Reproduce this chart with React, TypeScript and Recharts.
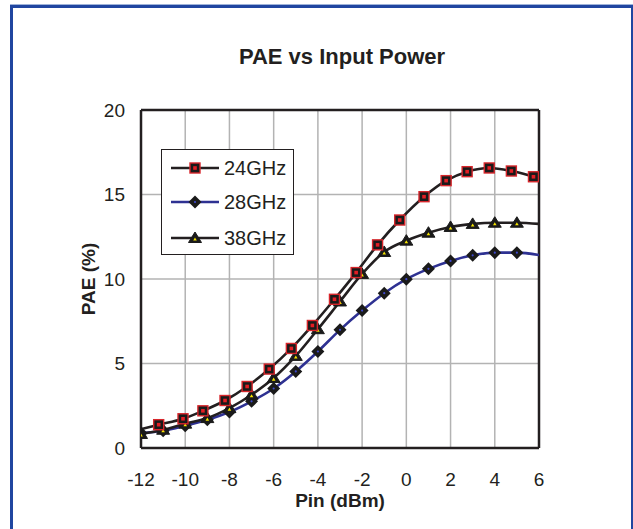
import React from "react";
import { CartesianGrid, Line, LineChart, ReferenceLine, XAxis, YAxis } from "recharts";

// Pin (dBm) / PAE (%)
const pin24 = [-11.2, -10.1, -9.2, -8.2, -7.2, -6.2, -5.2, -4.25, -3.25, -2.27, -1.3, -0.3, 0.8, 1.8, 2.75, 3.75, 4.75, 5.75];
const pae24 = [1.38, 1.73, 2.2, 2.81, 3.64, 4.67, 5.89, 7.25, 8.8, 10.38, 12.02, 13.49, 14.87, 15.82, 16.35, 16.57, 16.39, 16.05];
const pin28 = [-12, -11, -10, -9, -8, -7, -6, -5, -4, -3, -2, -1, 0, 1, 2, 3, 4, 5];
const pae28 = [0.89, 1.02, 1.32, 1.67, 2.13, 2.76, 3.52, 4.53, 5.71, 6.99, 8.13, 9.16, 9.99, 10.6, 11.07, 11.4, 11.56, 11.56];
const pin38 = [-12, -11, -10, -9, -8, -7, -6, -5, -4, -3, -2, -1, 0, 1, 2, 3, 4, 5];
const pae38 = [0.83, 1.08, 1.44, 1.77, 2.36, 3.15, 4.14, 5.45, 7.03, 8.67, 10.3, 11.6, 12.27, 12.74, 13.08, 13.26, 13.33, 13.33];
// where the curves run on past the last marker, no marker drawn
const head24 = { x: -12, y: 1.12 };
const tail24 = { x: 6, y: 15.93 };
const tail28 = { x: 6, y: 11.42 };
const tail38 = { x: 6, y: 13.26 };

const xTicks = [-12, -10, -8, -6, -4, -2, 0, 2, 4, 6];
const yTicks = [0, 5, 10, 15, 20];

const INK = "#231f20";
const BLUE = "#2e3192";
const FONT = "'Liberation Sans', Arial, sans-serif";

type Pt = { x: number; y: number; bare?: boolean };
const pts = (xs: number[], ys: number[]): Pt[] => xs.map((x, i) => ({ x, y: ys[i] }));

const s24: Pt[] = [{ ...head24, bare: true }, ...pts(pin24, pae24), { ...tail24, bare: true }];
const s28: Pt[] = [...pts(pin28, pae28), { ...tail28, bare: true }];
const s38: Pt[] = [...pts(pin38, pae38), { ...tail38, bare: true }];

function Square({ cx, cy }: { cx: number; cy: number }) {
  return (
    <g>
      <rect x={cx - 5} y={cy - 5} width={10} height={10} fill="#1a1a1a" stroke="#d7262b" strokeWidth={1.4} />
      <rect x={cx - 1.8} y={cy - 1.8} width={3.6} height={3.6} fill="#e31e24" />
    </g>
  );
}

function Diamond({ cx, cy }: { cx: number; cy: number }) {
  return (
    <g>
      <path d={`M${cx},${cy - 6.5}L${cx + 6.5},${cy}L${cx},${cy + 6.5}L${cx - 6.5},${cy}Z`} fill="#1a1a1a" />
      <circle cx={cx} cy={cy} r={1.1} fill="#3f48cc" />
    </g>
  );
}

function Triangle({ cx, cy }: { cx: number; cy: number }) {
  return (
    <g>
      <path d={`M${cx},${cy - 6}L${cx + 6.5},${cy + 4.5}L${cx - 6.5},${cy + 4.5}Z`} fill="#1a1a1a" stroke="#1a1a1a" strokeWidth={1} strokeLinejoin="round" />
      <path d={`M${cx},${cy - 0.5}L${cx + 1.8},${cy + 2.6}L${cx - 1.8},${cy + 2.6}Z`} fill="#f5e400" />
    </g>
  );
}

const dot = (Shape: typeof Square) => (p: any) => {
  if (p.payload?.bare || p.cx == null) return <g key={`d${p.index}`} />;
  return (
    <g key={`d${p.index}`}>
      <Shape cx={p.cx} cy={p.cy} />
    </g>
  );
};

const legendRows = [
  { name: "24GHz", color: INK, Shape: Square },
  { name: "28GHz", color: BLUE, Shape: Diamond },
  { name: "38GHz", color: INK, Shape: Triangle },
];

export default function App() {
  return (
    <div style={{ position: "absolute", left: 0, top: 0, width: 633, height: 529, overflow: "hidden", background: "#fff", fontFamily: FONT }}>
      <div style={{ position: "absolute", left: 10, top: 4, width: 640, height: 600, borderTop: "1px solid #9fb3d9" }} />
      <div style={{ position: "absolute", left: 10, top: 5, width: 618, height: 600, border: "3px solid #2046a0" }} />

      <div style={{ position: "absolute", left: 0, width: 684, top: 44, textAlign: "center", fontSize: 22, fontWeight: "bold", color: INK }}>
        PAE vs Input Power
      </div>

      <div style={{ position: "absolute", left: 0, top: 0 }}>
        <LineChart width={633} height={529} margin={{ top: 110, right: 94, bottom: 0, left: 81 }}>
          <CartesianGrid stroke="#b3b3b3" strokeWidth={1.5} />
          <XAxis
            type="number"
            dataKey="x"
            domain={[-12, 6]}
            ticks={xTicks}
            allowDataOverflow
            height={81}
            tickLine={false}
            tickSize={0}
            tickMargin={25}
            axisLine={{ stroke: INK, strokeWidth: 2.5 }}
            tick={{ fill: INK, fontSize: 19, fontFamily: FONT }}
            label={{
              content: (props: any) => {
                const vb = props.viewBox;
                return (
                  <text x={vb.x + vb.width / 2} y={507} textAnchor="middle" fill={INK} fontSize={19} fontWeight="bold" fontFamily={FONT}>
                    Pin (dBm)
                  </text>
                );
              },
            }}
          />
          <YAxis
            type="number"
            dataKey="y"
            domain={[0, 20]}
            ticks={yTicks}
            width={60}
            tickLine={false}
            tickSize={0}
            tickMargin={16}
            axisLine={{ stroke: INK, strokeWidth: 2.5 }}
            tick={{ fill: INK, fontSize: 19, fontFamily: FONT }}
            label={{
              content: (props: any) => {
                const vb = props.viewBox;
                const cy = vb.y + vb.height / 2;
                return (
                  <text x={95} y={cy} transform={`rotate(-90 95 ${cy})`} textAnchor="middle" fill={INK} fontSize={19} fontWeight="bold" fontFamily={FONT}>
                    PAE (%)
                  </text>
                );
              },
            }}
          />
          <ReferenceLine y={20} stroke={INK} strokeWidth={2.5} />
          <ReferenceLine x={6} stroke={INK} strokeWidth={2.5} />
          <Line data={s28} dataKey="y" type="monotone" stroke={BLUE} strokeWidth={2.6} dot={dot(Diamond)} isAnimationActive={false} />
          <Line data={s38} dataKey="y" type="monotone" stroke={INK} strokeWidth={2.6} dot={dot(Triangle)} isAnimationActive={false} />
          <Line data={s24} dataKey="y" type="monotone" stroke={INK} strokeWidth={2.6} dot={dot(Square)} isAnimationActive={false} />
        </LineChart>
      </div>

      <div style={{ position: "absolute", left: 161, top: 149, width: 131, height: 104, border: `1px solid ${INK}`, background: "#fff" }}>
        {legendRows.map((r, i) => (
          <div key={r.name} style={{ position: "absolute", left: 0, top: [4, 38, 74][i], height: 28, display: "flex", alignItems: "center" }}>
            <svg width={62} height={28} style={{ display: "block" }}>
              <line x1={9} x2={57} y1={14} y2={14} stroke={r.color} strokeWidth={2.6} />
              <r.Shape cx={33} cy={14} />
            </svg>
            <span style={{ fontSize: 20, color: INK, lineHeight: "28px" }}>{r.name}</span>
          </div>
        ))}
      </div>
    </div>
  );
}
